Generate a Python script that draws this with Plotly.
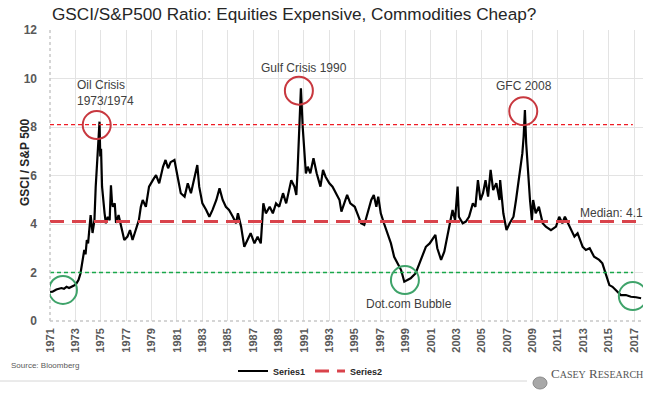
import plotly.graph_objects as go

# ---------------- data ----------------
years = [
    1971.0, 1971.2, 1971.5, 1971.9, 1972.1, 1972.3, 1972.5, 1972.65, 1972.85, 1973.05,
    1973.25, 1973.4, 1973.6, 1973.7, 1973.8, 1973.9, 1974.0, 1974.1, 1974.2, 1974.35,
    1974.5, 1974.6, 1974.75, 1974.85, 1974.9, 1974.96, 1975.02, 1975.1, 1975.2, 1975.3,
    1975.4, 1975.55, 1975.7, 1975.8, 1975.88, 1975.95, 1976.1, 1976.2, 1976.4, 1976.6,
    1976.85, 1977.1, 1977.3, 1977.5, 1977.65, 1977.8, 1978.0, 1978.15, 1978.3, 1978.55,
    1978.8, 1979.1, 1979.35, 1979.6, 1979.9, 1980.1, 1980.3, 1980.5, 1980.8, 1981.05,
    1981.3, 1981.6, 1981.85, 1982.1, 1982.35, 1982.6, 1982.75, 1983.0, 1983.3, 1983.55,
    1983.8, 1984.1, 1984.35, 1984.6, 1984.85, 1985.1, 1985.4, 1985.65, 1985.8, 1986.05,
    1986.3, 1986.55, 1986.8, 1987.1, 1987.35, 1987.6, 1987.8, 1988.0, 1988.3, 1988.55,
    1988.8, 1989.05, 1989.35, 1989.6, 1990.0, 1990.25, 1990.4, 1990.5, 1990.63, 1990.76,
    1990.9, 1991.0, 1991.15, 1991.3, 1991.5, 1991.75, 1992.0, 1992.3, 1992.5, 1992.7,
    1993.0, 1993.25, 1993.5, 1993.8, 1993.95, 1994.2, 1994.4, 1994.65, 1995.0, 1995.2,
    1995.5, 1995.75, 1996.0, 1996.3, 1996.5, 1996.7, 1996.85, 1997.05, 1997.3, 1997.6,
    1997.85, 1998.1, 1998.4, 1998.65, 1998.9, 1999.15, 1999.4, 1999.8, 2000.1, 2000.35,
    2000.6, 2000.9, 2001.1, 2001.35, 2001.5, 2001.8, 2002.05, 2002.3, 2002.6, 2002.7,
    2002.9, 2003.1, 2003.2, 2003.5, 2003.75, 2004.0, 2004.3, 2004.5, 2004.7, 2004.9,
    2005.1, 2005.3, 2005.5, 2005.7, 2005.9, 2006.15, 2006.4, 2006.45, 2006.7, 2006.95,
    2007.2, 2007.5, 2007.7, 2008.0, 2008.2, 2008.3, 2008.4, 2008.5, 2008.65, 2008.8,
    2008.95, 2009.05, 2009.25, 2009.5, 2009.8, 2010.05, 2010.45, 2010.85, 2011.1, 2011.35,
    2011.55, 2011.9, 2012.3, 2012.55, 2012.95, 2013.2, 2013.5, 2013.85, 2014.25, 2014.5,
    2014.8, 2015.05, 2015.3, 2015.55, 2015.95, 2016.35, 2016.75, 2017.15, 2017.55,
]
ratio = [
    1.20, 1.21, 1.30, 1.36, 1.33, 1.41, 1.36, 1.39, 1.45, 1.52,
    1.70, 1.96, 2.50, 2.93, 2.75, 3.34, 3.20, 3.89, 4.37, 3.63,
    4.16, 5.54, 6.92, 7.60, 8.22, 6.78, 7.10, 5.54, 4.90, 4.44,
    4.03, 4.30, 4.16, 5.60, 4.90, 4.71, 4.85, 4.04, 4.37, 3.89,
    3.34, 3.48, 3.75, 3.34, 3.60, 3.82, 4.16, 4.70, 4.99, 4.71,
    5.54, 5.81, 6.02, 5.68, 6.36, 6.64, 6.30, 6.55, 6.64, 5.95,
    5.27, 5.13, 5.68, 5.27, 5.81, 6.43, 5.54, 4.85, 4.58, 4.30,
    4.58, 4.99, 5.47, 4.99, 4.71, 4.58, 4.30, 4.03, 4.44, 3.89,
    3.06, 3.34, 3.62, 3.20, 3.48, 3.20, 4.85, 4.44, 4.71, 4.44,
    4.85, 4.71, 5.27, 4.85, 5.81, 5.54, 5.20, 6.23, 8.01, 9.60,
    8.01, 7.19, 6.09, 6.36, 6.09, 6.71, 6.09, 5.54, 6.23, 5.95,
    5.68, 5.54, 5.27, 4.99, 4.51, 4.85, 5.20, 4.85, 4.71, 4.44,
    4.03, 3.96, 4.44, 4.99, 5.20, 4.71, 5.13, 4.44, 4.03, 3.62,
    3.20, 2.65, 2.31, 2.10, 1.62, 1.69, 1.76, 1.97, 2.38, 2.65,
    3.06, 3.20, 3.34, 3.55, 3.00, 2.52, 2.86, 3.48, 4.30, 4.58,
    4.16, 5.54, 4.30, 4.03, 4.10, 4.30, 4.85, 4.71, 5.81, 4.99,
    5.27, 5.81, 5.13, 6.23, 5.40, 5.68, 4.99, 5.81, 4.44, 3.75,
    4.03, 4.30, 4.99, 6.09, 6.92, 7.60, 8.70, 7.33, 6.09, 4.99,
    4.16, 4.99, 4.44, 4.71, 4.03, 3.89, 3.75, 3.89, 4.30, 4.03,
    4.30, 3.89, 3.48, 3.62, 3.06, 2.93, 3.00, 2.65, 2.52, 2.38,
    1.83, 1.48, 1.41, 1.28, 1.07, 1.07, 1.00, 0.98, 0.94,
]
median_value = 4.1
high_level = 8.1
low_level = 2.0
level_end_year = 2016.9

tick_years = list(range(1971, 2018, 2))
y_ticks = [0, 2, 4, 6, 8, 10, 12]

peaks = [  # (year, value) of the highlighted highs
    (1974.68, 8.08),
    (1990.6, 9.5),
    (2008.27, 8.65),
]
troughs = [  # (year, value) of the highlighted lows
    (1972.02, 1.28),
    (1998.95, 1.69),
    (2016.9, 1.03),
]

# ---------------- figure ----------------
FONT = "Liberation Sans, Arial, sans-serif"
fig = go.Figure()

fig.add_trace(go.Scatter(
    x=years, y=ratio, mode="lines", name="Series1",
    line=dict(color="#000000", width=2.2),
))
fig.add_trace(go.Scatter(
    x=[years[0], years[-1]], y=[median_value, median_value], mode="lines", name="Series2",
    line=dict(color="#d9434b", width=3, dash="14px,8px"),
))

shapes = []
# short-dash reference levels
shapes.append(dict(type="line", xref="x", yref="y", x0=years[0], x1=level_end_year,
                   y0=high_level, y1=high_level,
                   line=dict(color="#ee1c25", width=1.4, dash="4px,3px"), layer="above"))
shapes.append(dict(type="line", xref="x", yref="y", x0=years[0], x1=level_end_year,
                   y0=low_level, y1=low_level,
                   line=dict(color="#1aa84b", width=1.4, dash="4px,3px"), layer="above"))
# dotted axes
shapes.append(dict(type="line", xref="paper", yref="paper", x0=0, x1=0, y0=0, y1=1,
                   line=dict(color="#c8c8c8", width=1.5, dash="dot"), layer="above"))
shapes.append(dict(type="line", xref="paper", yref="paper", x0=0, x1=1, y0=0, y1=0,
                   line=dict(color="#c8c8c8", width=1.5, dash="dot"), layer="above"))
# circles
for (yr, v) in peaks:
    shapes.append(dict(type="circle", xref="x", yref="y", xsizemode="pixel", ysizemode="pixel",
                       xanchor=yr, yanchor=v, x0=-14, x1=14, y0=-14, y1=14,
                       line=dict(color="#c8383f", width=2), layer="above"))
for (yr, v) in troughs:
    shapes.append(dict(type="circle", xref="x", yref="y", xsizemode="pixel", ysizemode="pixel",
                       xanchor=yr, yanchor=v, x0=-14, x1=14, y0=-14, y1=14,
                       line=dict(color="#3fa36a", width=2), layer="above"))
# footer separator
shapes.append(dict(type="line", xref="paper", yref="paper",
                   x0=-50 / 593, x1=477 / 593, y0=-60 / 291, y1=-60 / 291,
                   line=dict(color="#d6d6d6", width=1)))
# logo mark
shapes.append(dict(type="circle", xref="paper", yref="paper", xsizemode="pixel", ysizemode="pixel",
                   xanchor=490 / 593, yanchor=-62 / 291, x0=-7, x1=7, y0=-6, y1=6,
                   fillcolor="#a8a8a8", line=dict(color="#8a8a8a", width=1)))

ann_font = dict(family=FONT, size=12, color="#404040")
annotations = [
    dict(x=1972.95, y=9.4, xref="x", yref="y", text="Oil Crisis<br>1973/1974", showarrow=False,
         xanchor="left", yanchor="middle", align="left", font=ann_font),
    dict(x=1991.04, y=10.43, xref="x", yref="y", text="Gulf Crisis 1990", showarrow=False,
         font=ann_font),
    dict(x=2008.36, y=9.69, xref="x", yref="y", text="GFC 2008", showarrow=False, font=ann_font),
    dict(x=2015.25, y=4.47, xref="x", yref="y", text="Median: 4.1", showarrow=False, font=ann_font),
    dict(x=1999.3, y=0.70, xref="x", yref="y", text="Dot.com Bubble", showarrow=False, font=ann_font),
    # y-axis title
    dict(x=-34 / 593, y=(321 - 163) / 291, xref="paper", yref="paper", text="<b>GSCI / S&P 500</b>",
         textangle=-90, showarrow=False, font=dict(family=FONT, size=12, color="#262626")),
    # source
    dict(x=-41 / 593, y=(321 - 372) / 291, xref="paper", yref="paper", text="Source: Bloomberg",
         xanchor="left", showarrow=False, font=dict(family=FONT, size=8, color="#595959")),
    # logo text
    dict(x=499 / 593, y=(321 - 383) / 291, xref="paper", yref="paper", xanchor="left",
         text="C<span style='font-size:10px'>ASEY</span> R<span style='font-size:10px'>ESEARCH</span>",
         showarrow=False, font=dict(family="Liberation Serif, serif", size=13, color="#555555")),
]

fig.update_layout(
    width=649, height=394,
    margin=dict(l=50, r=6, t=30, b=73),
    paper_bgcolor="white", plot_bgcolor="white",
    title=dict(text="GSCI/S&P500 Ratio: Equities Expensive, Commodities Cheap?",
               x=52 / 649, xanchor="left", y=1 - 14 / 394, yanchor="middle",
               font=dict(family=FONT, size=17.2, color="#262626")),
    showlegend=True,
    legend=dict(orientation="h", x=183 / 593, xanchor="left", y=(321 - 371) / 291, yanchor="middle",
                font=dict(family=FONT, size=9, color="#262626", weight="bold"),
                bgcolor="rgba(0,0,0,0)", itemwidth=30, tracegroupgap=0),
    shapes=shapes,
    annotations=annotations,
    font=dict(family=FONT),
)
fig.update_xaxes(
    range=[1971.0, 2017.7], tickmode="array", tickvals=tick_years,
    ticktext=[str(t) for t in tick_years], tickangle=-90,
    tickfont=dict(family=FONT, size=11, color="#595959", weight="bold"),
    showgrid=True, gridcolor="#e3e3e3", gridwidth=1, zeroline=False, showline=False,
    ticks="", ticklabelstandoff=4,
)
fig.update_yaxes(
    range=[0, 12], tickmode="array", tickvals=y_ticks,
    tickfont=dict(family=FONT, size=12, color="#595959", weight="bold"),
    showgrid=True, gridcolor="#e3e3e3", gridwidth=1, zeroline=False, showline=False,
    ticks="", ticklabelstandoff=12,
)

fig.write_html("out.html", config={"displayModeBar": False},
               post_script="document.body.style.margin='0';")
